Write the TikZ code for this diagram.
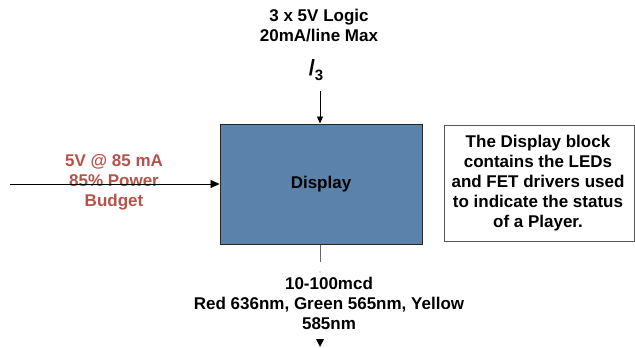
\documentclass[tikz,border=0pt]{standalone}
\usepackage{fontspec}
\setmainfont{Liberation Sans}
\usetikzlibrary{arrows.meta}
\definecolor{boxblue}{HTML}{5B82AB}
\definecolor{redtxt}{HTML}{B5534A}
\tikzset{
  lbl/.style={font=\fontsize{17}{20}\selectfont\bfseries, align=center, inner sep=0pt},
  conn/.style={-{Triangle[length=9pt,width=8pt]}, line width=0.6pt},
}
\begin{document}
\begin{tikzpicture}[x=1pt,y=-1pt]
\useasboundingbox (0,0) rectangle (635,348);
\node[draw=black!85, line width=1pt, fill=boxblue, minimum width=202pt, minimum height=120pt, anchor=north west, inner sep=0pt] (disp) at (219.5,123.5) {};
\node[lbl] (displbl) at (disp.center) {Display};
\node[draw=black!65, line width=0.8pt, minimum width=190pt, minimum height=116pt, anchor=north west, inner sep=0pt] (note) at (444,125) {};
\node[lbl] (notetxt) at (538,183) {The Display block\\contains the LEDs\\and FET drivers used\\to indicate the status\\of a Player.};
\node[lbl] (top) at (319,26) {3 x 5V Logic\\20mA/line Max};
\node[font=\fontsize{22}{24}\selectfont\bfseries, inner sep=0pt] (bus) at (316,70) {/\raisebox{-0.45ex}{\fontsize{15}{16}\selectfont 3}};
\coordinate (tin) at (320,91);
\draw[-{Triangle[length=7pt,width=6pt]}, line width=0.6pt] (tin) -- (disp.north -| tin);
\node[lbl, text=redtxt] (pw) at (114,182) {5V @ 85 mA\\85\% Power\\Budget};
\coordinate (lin) at (10,184);
\draw[conn] (lin) -- (lin -| disp.west);
\coordinate (bot) at (320,347);
\draw[black!60, line width=0.6pt] (disp.south -| bot) -- (320,262);
\fill[black!50] (320,272) circle (0.6pt);
\node[lbl] (lum) at (329,303) {10-100mcd\\Red 636nm, Green 565nm, Yellow\\585nm};
\fill (316,339) -- (324,339) -- (320,347) -- cycle;
\end{tikzpicture}
\end{document}
